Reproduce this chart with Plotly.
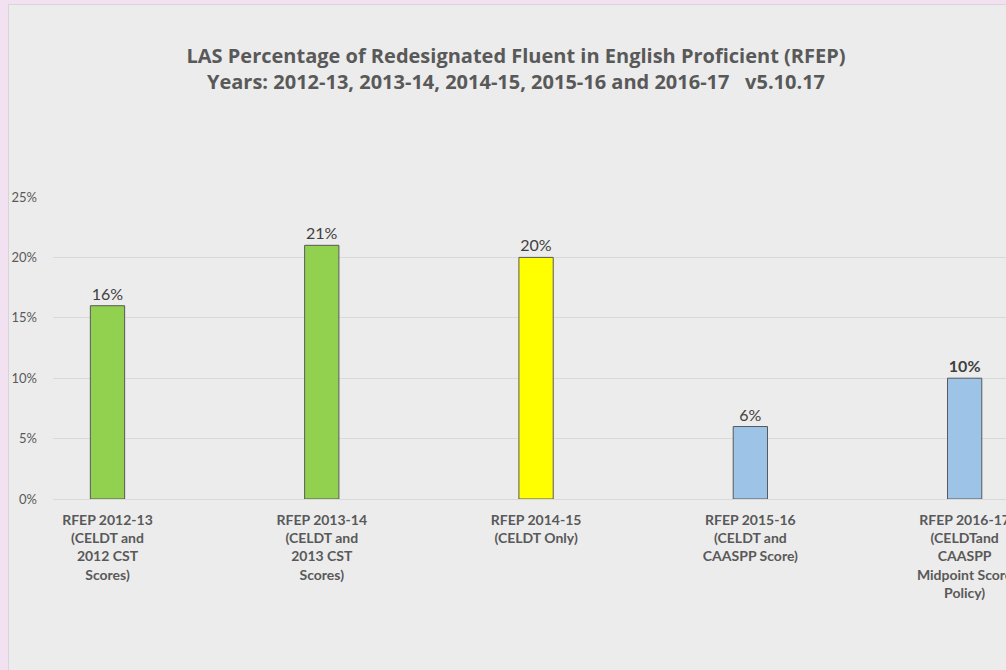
import plotly.graph_objects as go

categories = [
    "RFEP 2012-13<br>(CELDT and<br>2012 CST<br>Scores)",
    "RFEP 2013-14<br>(CELDT and<br>2013 CST<br>Scores)",
    "RFEP 2014-15<br>(CELDT Only)",
    "RFEP 2015-16<br>(CELDT and<br>CAASPP Score)",
    "RFEP 2016-17<br>(CELDTand<br>CAASPP<br>Midpoint Score<br>Policy)",
]
rfep_pct = [16, 21, 20, 6, 10]
bar_colors = ["#92d050", "#92d050", "#ffff00", "#9dc3e6", "#9dc3e6"]
label_text = ["16%", "21%", "20%", "6%", "<b>10%</b>"]
y_ticks = [0, 5, 10, 15, 20, 25]
y_tick_text = ["0%", "5%", "10%", "15%", "20%", "25%"]

PANEL = "#ececec"
PINK = "#f2e1f0"
FONT = "Lato, Open Sans, sans-serif"

fig = go.Figure()
fig.add_trace(go.Bar(
    x=list(range(len(categories))),
    y=rfep_pct,
    width=0.16,
    marker=dict(color=bar_colors, line=dict(color="#595959", width=1)),
    text=label_text,
    textposition="outside",
    textfont=dict(family=FONT, size=16, color="#404040"),
    cliponaxis=False,
    hoverinfo="skip",
))

fig.update_layout(
    width=998, height=666,
    margin=dict(l=45, r=0, t=193, b=171),
    paper_bgcolor=PANEL,
    plot_bgcolor=PANEL,
    showlegend=False,
    font=dict(family=FONT, color="#595959"),
    title=dict(
        text="<b>LAS Percentage of Redesignated Fluent in English Proficient (RFEP)<br>"
             "Years: 2012-13, 2013-14, 2014-15, 2015-16 and 2016-17 &nbsp; v5.10.17</b>",
        x=508 / 998, xanchor="center",
        y=1 - 59 / 666, yanchor="middle",
        font=dict(size=20, color="#595959", family="Open Sans, sans-serif"),
    ),
    xaxis=dict(
        tickmode="array",
        tickvals=list(range(len(categories))),
        ticktext=["<b>" + c + "</b>" for c in categories],
        range=[-0.2543, 4.193],
        automargin=False,
        showgrid=False,
        zeroline=False,
        showline=False,
        ticks="",
        tickangle=0,
        ticklabeloverflow="allow",
        ticklabelstandoff=11,
        tickfont=dict(size=14, color="#595959", family=FONT),
    ),
    yaxis=dict(
        range=[0, 25],
        automargin=False,
        tickmode="array",
        tickvals=y_ticks,
        ticktext=y_tick_text,
        showgrid=True,
        gridcolor="#d9d9d9",
        gridwidth=1,
        zeroline=True,
        zerolinecolor="#d9d9d9",
        zerolinewidth=1,
        ticks="",
        ticklabelstandoff=15,
        tickfont=dict(size=13, color="#595959"),
    ),
    shapes=[
        dict(type="line", xref="paper", yref="paper",
             x0=-45 / 953, x1=-45 / 953, y0=-1, y1=1 + 193 / 302,
             line=dict(color="#d6d6d6", width=2), layer="above"),
        dict(type="line", xref="paper", yref="paper",
             x0=-45 / 953, x1=1.1, y0=1 + 193 / 302, y1=1 + 193 / 302,
             line=dict(color="#d6d6d6", width=2), layer="above"),
    ],
)

fig.write_html(
    "out.html",
    post_script="document.body.style.margin='4px 0 0 8px';"
                "document.body.style.background='" + PINK + "';"
                "document.body.style.overflow='hidden';",
)
